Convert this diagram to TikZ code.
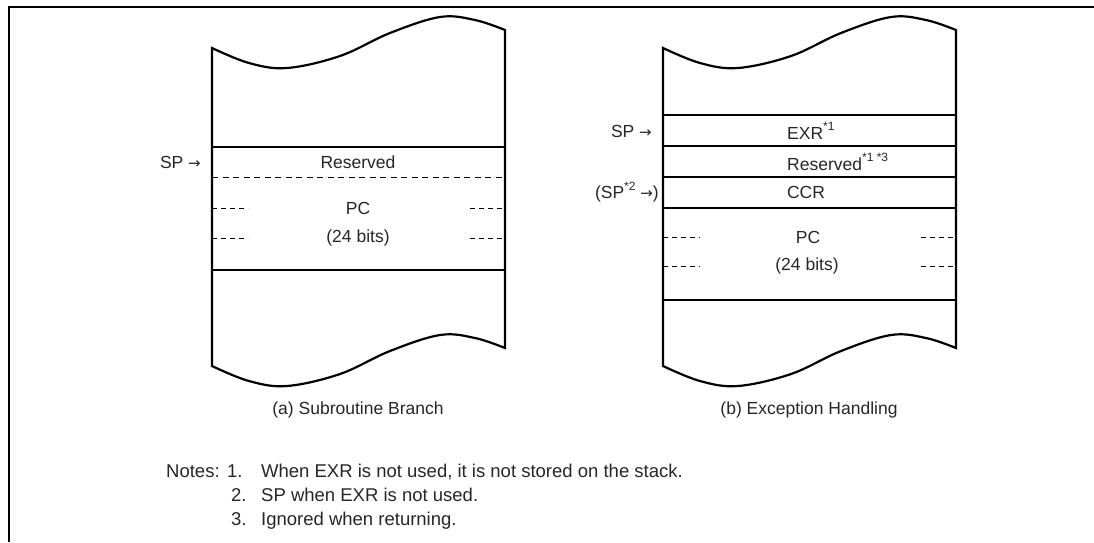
\documentclass[tikz,border=0pt]{standalone}
\usepackage{fontspec}
\setmainfont{Liberation Sans}
\newfontfamily\arrowfont{DejaVu Sans}
\newcommand\supx[1]{\raisebox{0.5em}{\fontsize{12}{12}\selectfont #1}}
\newcommand\rarr{{\arrowfont\fontsize{15}{15}\selectfont →}}
\begin{document}
\begin{tikzpicture}[x=1pt,y=-1pt,
  outline/.style={line width=2.2pt, line join=miter},
  sepline/.style={line width=2.2pt},
  dshline/.style={line width=0.9pt, dash pattern=on 6pt off 4.5pt},
  shortdsh/.style={line width=0.9pt, dash pattern=on 5pt off 4pt},
  lbl/.style={font=\fontsize{17.5}{21}\selectfont, inner sep=0pt, text=black!85},
  note/.style={font=\fontsize{18.5}{22}\selectfont, inner sep=0pt, anchor=base west, text=black!85},
]
\useasboundingbox (0,0) rectangle (1094,542);
% page frame (top and left rules)
\draw[line width=2.5pt] (9,542) -- (9,7) -- (1094,7);

% torn stack outlines
\foreach \dx in {0,451}{
  \draw[outline] plot[smooth, tension=0.6] coordinates {
      ({212+\dx},48) ({249+\dx},63) ({287+\dx},68) ({340+\dx},56) ({390+\dx},33)
      ({440+\dx},17) ({475+\dx},20) ({505+\dx},30)}
    -- ({505+\dx},348)
    -- plot[smooth, tension=0.6] coordinates {
      ({505+\dx},348) ({475+\dx},338) ({440+\dx},335) ({390+\dx},351) ({340+\dx},374)
      ({287+\dx},386) ({249+\dx},381) ({212+\dx},366)}
    -- cycle;
}

% ---- (a) Subroutine Branch ----
\draw[sepline] (212,147) -- (505,147);
\draw[dshline] (212,177) -- (505,177);
\draw[sepline] (212,270) -- (505,270);
\foreach \yy in {208,238}{
  \draw[shortdsh] (212,\yy) -- (248,\yy);
  \draw[shortdsh] (470,\yy) -- (505,\yy);
}
\node[lbl, anchor=east] (spa) at (201,162) {SP \rarr};
\node[lbl] (resa) at (358,162) {Reserved};
\node[lbl] (pca) at (358,208) {PC};
\node[lbl] (bitsa) at (358,238) {(24 bits)};
\node[lbl] (capa) at (358,410) {(a) Subroutine Branch};

% ---- (b) Exception Handling ----
\foreach \yy in {115,146,177,208,300}{
  \draw[sepline] (663,\yy) -- (956,\yy);
}
\foreach \yy in {237,266}{
  \draw[shortdsh] (663,\yy) -- (700,\yy);
  \draw[shortdsh] (921,\yy) -- (956,\yy);
}
\node[lbl, anchor=east] (spb) at (652,131) {SP \rarr};
\node[lbl, anchor=east] (spb2) at (659,192) {(SP\supx{*2} \rarr)};
\node[lbl, anchor=west] (exr) at (787,131) {EXR\supx{*1}};
\node[lbl, anchor=west] (resb) at (787,162) {Reserved\supx{*1 *3}};
\node[lbl] (ccr) at (806,192) {CCR};
\node[lbl] (pcb) at (808,237) {PC};
\node[lbl] (bitsb) at (807,266) {(24 bits)};
\node[lbl] (capb) at (809,410) {(b) Exception Handling};

% ---- Notes ----
\node[note] (n0) at (166,477) {Notes:};
\node[note] (n1) at (227,477) {1.};
\node[note] (t1) at (261,477) {When EXR is not used, it is not stored on the stack.};
\node[note] (n2) at (231,501) {2.};
\node[note] (t2) at (261,501) {SP when EXR is not used.};
\node[note] (n3) at (231,525) {3.};
\node[note] (t3) at (261,525) {Ignored when returning.};
\end{tikzpicture}
\end{document}
